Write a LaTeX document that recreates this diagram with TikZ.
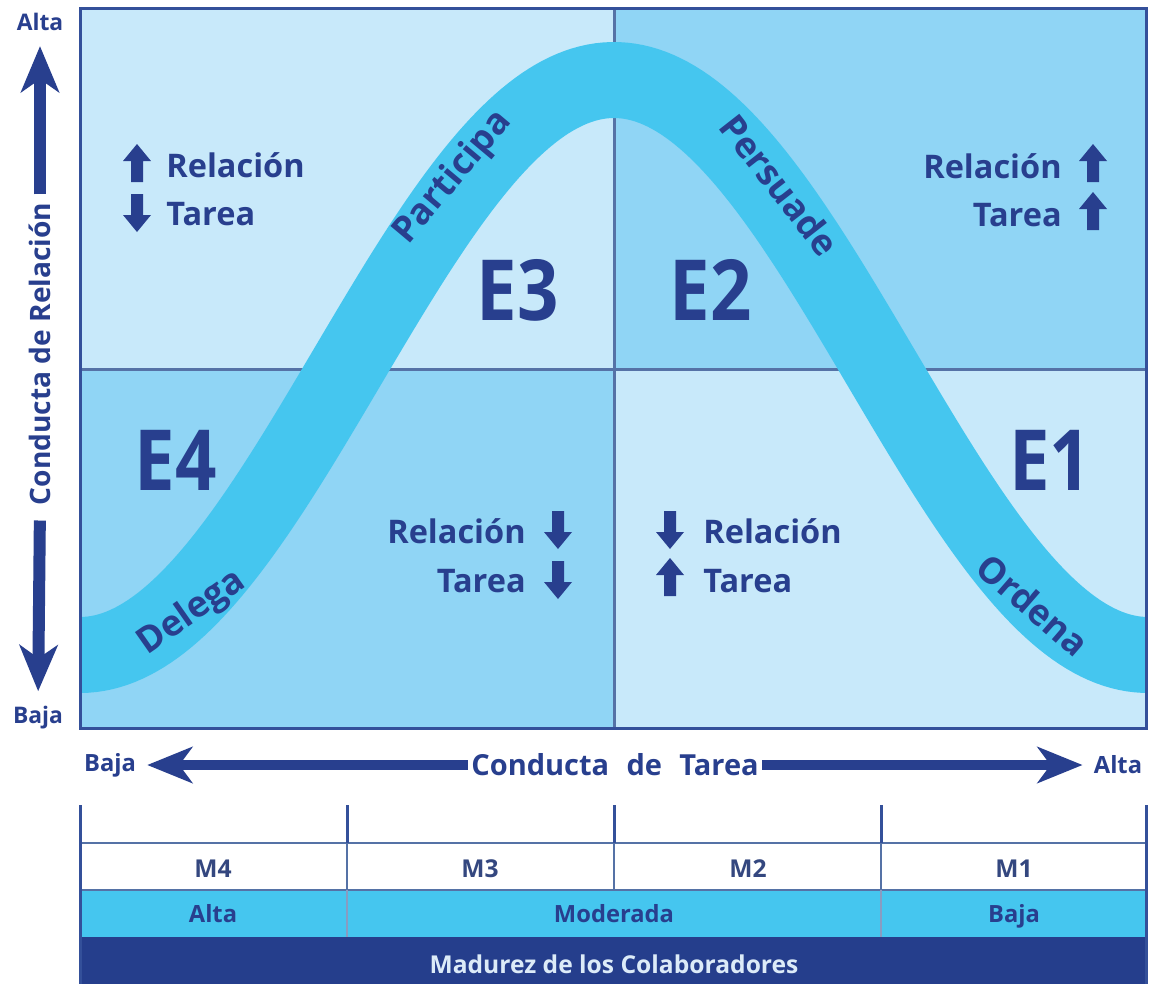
\documentclass[tikz,border=0pt]{standalone}
\usepackage{fontspec}
\setmainfont{Open Sans}
\usetikzlibrary{arrows.meta}
\definecolor{navy}{HTML}{283F8E}
\definecolor{qlight}{HTML}{C8E9FA}
\definecolor{qmed}{HTML}{90D5F5}
\definecolor{bandc}{HTML}{45C6EF}
\definecolor{divl}{HTML}{5572A6}
\definecolor{darkrow}{HTML}{253E8C}
\definecolor{framec}{HTML}{34509A}
\definecolor{tabtxt}{HTML}{34477F}
\definecolor{madtxt}{HTML}{DCEBF8}
\newcommand{\fsz}[1]{\fontsize{#1pt}{#1pt}\selectfont\bfseries}
\begin{document}
\begin{tikzpicture}[x=0.02cm,y=-0.02cm,
  txt/.style={text=navy,font=\fsz{18.5},inner sep=0pt},
  bigE/.style={text=navy,font=\fsz{48},inner sep=0pt,xscale=0.86},
  curvelbl/.style={text=navy,font=\fsz{20.5},inner sep=0pt},
  axlbl/.style={text=navy,font=\fsz{16},inner sep=0pt},
  endlbl/.style={text=navy,font=\fsz{13},inner sep=0pt},
  tablbl/.style={text=tabtxt,font=\fsz{14},inner sep=0pt,anchor=base},
  axarrow/.style={navy,line width=0.24cm,-{Stealth[length=0.92cm,width=0.76cm,inset=0.26cm]}},
  haxarrow/.style={navy,line width=0.2cm,-{Stealth[length=0.9cm,width=0.72cm,inset=0.26cm]}},
  uparr/.pic={\fill[navy] (-6,19) -- (-6,-2) -- (-14,-2) -- (0,-19) -- (14,-2) -- (6,-2) -- (6,19) -- cycle;},
  dnarr/.pic={\fill[navy] (-6,-19) -- (-6,2) -- (-14,2) -- (0,19) -- (14,2) -- (6,2) -- (6,-19) -- cycle;}
]
\useasboundingbox (0,0) rectangle (1150,984);
\fill[white] (0,0) rectangle (1150,984);
% quadrants
\fill[qlight] (80,8) rectangle (614,369);
\fill[qmed] (614,8) rectangle (1146,369);
\fill[qmed] (80,369) rectangle (614,728);
\fill[qlight] (614,369) rectangle (1146,728);
\draw[divl,line width=0.06cm] (614,8) -- (614,728);
\draw[divl,line width=0.06cm] (80,369) -- (1146,369);
% band
\begin{scope}
\clip (80,8) rectangle (1146,728);
\draw[bandc,line width=1.52cm] plot[domain=40:1190,samples=200] (\x,{655-287.5*(1+cos((\x-614)/534*180))});
\end{scope}
\draw[framec,line width=0.06cm] (80,8) rectangle (1146,728);
% big labels
\node[bigE] (e3) at (518,290) {E3};
\node[bigE] (e2) at (711,290) {E2};
\node[bigE] (e4) at (176,460) {E4};
\node[bigE] (e1) at (1050,460) {E1};
% curve labels
\node[curvelbl,rotate=50] (part) at (453,178) {Participa};
\node[curvelbl,rotate=-52] (pers) at (780,185) {Persuade};
\node[curvelbl,rotate=35] (dele) at (192,613) {Delega};
\node[curvelbl,rotate=-41] (orde) at (1033,605) {Ordena};
% quadrant texts
\pic at (137,163) {uparr};
\pic at (137,213) {dnarr};
\node[txt,anchor=base west] (tlr) at (166,177) {Relación};
\node[txt,anchor=base west] (tlt) at (166,225) {Tarea};
\pic at (1093,163) {uparr};
\pic at (1093,211) {uparr};
\node[txt,anchor=base east] (trr) at (1062,178) {Relación};
\node[txt,anchor=base east] (trt) at (1062,226) {Tarea};
\pic at (558,530) {dnarr};
\pic at (558,580) {dnarr};
\node[txt,anchor=base east] (blr) at (526,543) {Relación};
\node[txt,anchor=base east] (blt) at (526,592) {Tarea};
\pic at (670,530) {dnarr};
\pic at (670,577) {uparr};
\node[txt,anchor=base west] (brr) at (703,543) {Relación};
\node[txt,anchor=base west] (brt) at (703,592) {Tarea};
% vertical axis
\node[endlbl] (altay) at (40,22) {Alta};
\node[endlbl] (bajay) at (38,718) {Baja};
\node[axlbl,rotate=90] (crel) at (40,354) {Conducta de Relación};
\draw[axarrow,shorten <=0.16cm,shorten >=0.3cm] (crel.east) -- (altay.south);
\draw[axarrow,shorten <=0.3cm,shorten >=0.3cm] (crel.west) -- (bajay.north);
% horizontal axis
\node[endlbl,font=\fsz{13.5}] (bajax) at (110,765) {Baja};
\node[endlbl,font=\fsz{13.5}] (altax) at (1118,765) {Alta};
\node[axlbl,font=\fsz{16.5}] (ctar) at (615,765) {Conducta\hspace{0.6em}de\hspace{0.6em}Tarea};
\draw[haxarrow,shorten <=0.06cm,shorten >=0.22cm] (ctar.west) -- (bajax.east);
\draw[haxarrow,shorten <=0.06cm,shorten >=0.22cm] (ctar.east) -- (altax.west);
% table
\fill[bandc] (80,890) rectangle (1146,937);
\fill[darkrow] (80,937) rectangle (1146,984);
\draw[divl,line width=0.05cm] (80,843) -- (1146,843);
\draw[divl,line width=0.05cm] (80,890) -- (1146,890);
\foreach \xx in {347,614,881}{\draw[divl,line width=0.05cm] (\xx,843) -- (\xx,890);}
\foreach \xx in {347,881}{\draw[divl!70,line width=0.04cm] (\xx,890) -- (\xx,937);}
\foreach \xx in {347,614,881}{\draw[framec,line width=0.06cm] (\xx,805) -- (\xx,843);}
\draw[framec,line width=0.06cm] (80,805) -- (80,984);
\draw[framec,line width=0.06cm] (1146,805) -- (1146,984);
\node[tablbl] (m4) at (213,877) {M4};
\node[tablbl] (m3) at (480,877) {M3};
\node[tablbl] (m2) at (748,877) {M2};
\node[tablbl] (m1) at (1014,877) {M1};
\node[tablbl,text=navy,font=\fsz{13.5}] (ralta) at (213,922) {Alta};
\node[tablbl,text=navy,font=\fsz{13.5}] (rmod) at (614,922) {Moderada};
\node[tablbl,text=navy,font=\fsz{13.5}] (rbaja) at (1014,922) {Baja};
\node[tablbl,text=madtxt] (mad) at (614,973) {Madurez de los Colaboradores};
\end{tikzpicture}
\end{document}
